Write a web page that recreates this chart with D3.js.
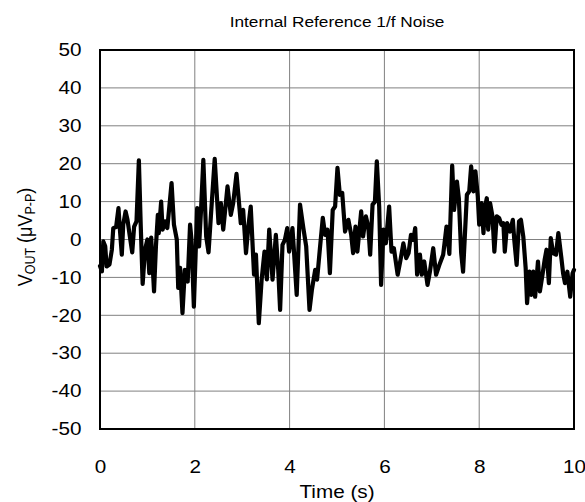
<!DOCTYPE html>
<html><head><meta charset="utf-8">
<script src="https://cdn.jsdelivr.net/npm/d3@7/dist/d3.min.js"></script>
<style>body{margin:0;background:#fff;}text{font-family:"Liberation Sans",Arial,sans-serif;fill:#000;}</style>
</head><body><svg id="c" width="585" height="502"></svg>
<script>
const times = [0,0.04,0.07,0.11,0.14,0.20,0.25,0.28,0.34,0.39,0.42,0.46,0.49,0.54,0.58,0.63,0.68,0.72,0.77,0.82,0.86,0.90,0.95,1.00,1.04,1.08,1.14,1.18,1.22,1.24,1.29,1.32,1.37,1.42,1.51,1.56,1.62,1.65,1.69,1.74,1.79,1.85,1.90,1.93,1.98,2.03,2.05,2.09,2.13,2.18,2.24,2.29,2.34,2.42,2.50,2.55,2.60,2.69,2.76,2.81,2.88,2.97,3.02,3.08,3.13,3.18,3.25,3.29,3.35,3.41,3.47,3.52,3.57,3.64,3.71,3.76,3.80,3.85,3.90,3.95,3.99,4.06,4.09,4.15,4.22,4.29,4.35,4.42,4.47,4.54,4.58,4.64,4.70,4.75,4.80,4.85,4.91,4.96,5.01,5.06,5.11,5.17,5.24,5.30,5.34,5.39,5.43,5.51,5.55,5.61,5.66,5.70,5.75,5.80,5.84,5.89,5.93,5.98,6.03,6.10,6.15,6.20,6.28,6.34,6.40,6.46,6.51,6.56,6.61,6.65,6.69,6.75,6.79,6.84,6.91,6.96,7.03,7.09,7.16,7.24,7.31,7.37,7.43,7.47,7.53,7.57,7.62,7.66,7.74,7.79,7.83,7.88,7.92,7.97,8.00,8.05,8.09,8.12,8.16,8.19,8.23,8.28,8.32,8.37,8.42,8.47,8.51,8.54,8.59,8.65,8.71,8.74,8.79,8.84,8.88,8.93,8.98,9.01,9.06,9.10,9.14,9.18,9.24,9.28,9.34,9.38,9.42,9.47,9.51,9.56,9.62,9.67,9.73,9.77,9.81,9.86,9.92,9.97,10.00];
const vout = [-7,-8.4,-0.5,-1.8,-7.1,-6.6,-2.7,3.0,3.3,8.3,2.6,-4.0,3.9,7.4,5.2,0.8,-3.4,3.4,4.8,20.9,3.4,-11.7,-2.7,0,-8.9,0.5,-13.7,-1.8,6.5,1.7,10.0,2.6,4.8,3.0,14.9,3.9,0,-12.8,-7.5,-19.4,-8.0,-11.1,3.9,0,-17.7,0.8,8.3,-1.8,7.4,21.0,0.8,-3.4,6.3,21.3,4.3,9.6,2.6,14.0,6.5,9.6,17.3,4.3,7.8,-3.6,3.4,8.7,-9.3,-4.0,-22.1,-10.6,-3.2,-10.5,2.6,-10.6,1.2,-8.0,-18.6,-1.4,-0.1,3.0,-3.2,3.0,-2.7,-14.6,9.2,3.0,-1.8,-18.6,-13.3,-8.0,-10.6,-2.3,5.7,1.2,2.6,-8.9,7.8,8.7,18.9,11.8,12.3,2.1,5.2,1.2,-3.6,3.4,-3.2,7.4,0.8,6.1,3.4,-4.0,9.2,10.0,20.6,8.7,-12.0,2.6,-1.0,8.7,-3.2,-2.3,-9.3,-5.4,-1.0,-4.9,-3.6,1.2,-0.1,3.0,-9.3,-4.0,-9.3,-5.8,-12.0,-8.5,-2.3,-9.3,-6.7,-4.0,3.4,-3.8,19.5,7.8,15.3,10.9,-3.6,-8.5,11.8,12.7,19.3,12.7,18.0,11.4,3.9,9.6,1.7,8.3,10.9,2.6,9.6,6.1,-3.2,6.1,5.7,3.9,4.3,-3.2,4.3,2.1,5.2,-0.1,-6.7,4.8,5.2,0.8,-7.5,-16.8,-8.5,-14.6,-8.5,-15.1,-5.8,-13.7,-8.9,-5.4,-2.7,-11.5,0.4,-3.6,-4.0,1.7,-4.5,-8.9,-11.5,-8.5,-15.1,-8.9,-8.0];
const xTicks = [0,2,4,6,8,10];
const yTicks = [-50,-40,-30,-20,-10,0,10,20,30,40,50];
const titleText = "Internal Reference 1/f Noise";
const xLabel = "Time (s)";

const L=100,R=574,T=50,B=429;
const SX=1.15; // horizontal stretch of text seen in the reference
const FS=18;
const svg=d3.select("#c");
const x=d3.scaleLinear().domain([0,10]).range([L,R]);
const y=d3.scaleLinear().domain([-50,50]).range([B,T]);

// grid
svg.append("g").selectAll("line").data(yTicks).join("line")
  .attr("x1",L).attr("x2",R).attr("y1",d=>y(d)).attr("y2",d=>y(d))
  .attr("stroke","#808080").attr("stroke-width",1);
svg.append("g").selectAll("line").data(xTicks).join("line")
  .attr("y1",T).attr("y2",B).attr("x1",d=>x(d)).attr("x2",d=>x(d))
  .attr("stroke","#808080").attr("stroke-width",1);

const fmt=d=>String(d);
// y axis labels
const ya=svg.append("g").attr("transform",`translate(${L},0)`)
  .call(d3.axisLeft(y).tickValues(yTicks).tickSize(0).tickPadding(18).tickFormat(fmt));
ya.select(".domain").remove();
ya.selectAll("text").attr("x",0).attr("transform",`translate(-18.5,0) scale(${SX},1)`)
  .style("font-size",FS+"px").style("font-family","'Liberation Sans',Arial,sans-serif").attr("fill","#000");
// x axis labels
const xa=svg.append("g").attr("transform",`translate(0,${B})`)
  .call(d3.axisBottom(x).tickValues(xTicks).tickSize(0).tickPadding(31.5).tickFormat(fmt));
xa.select(".domain").remove();
xa.selectAll("text").attr("transform",`scale(${SX},1)`)
  .style("font-size",FS+"px").style("font-family","'Liberation Sans',Arial,sans-serif").attr("fill","#000");

// data line
const pts=times.map((t,i)=>[t,vout[i]]);
svg.append("path").datum(pts)
  .attr("d",d3.line().x(d=>x(d[0])).y(d=>y(d[1])))
  .attr("fill","none").attr("stroke","#000").attr("stroke-width",4.2)
  .attr("stroke-linejoin","round").attr("stroke-linecap","round");

// frame
svg.append("rect").attr("x",L).attr("y",T).attr("width",R-L).attr("height",B-T)
  .attr("fill","none").attr("stroke","#000").attr("stroke-width",2);

// titles
svg.append("text").attr("transform",`translate(${(L+R)/2},27) scale(${SX},1)`).attr("text-anchor","middle")
  .style("font-size","15px").text(titleText);
svg.append("text").attr("transform",`translate(${(L+R)/2},498) scale(${SX},1)`).attr("text-anchor","middle")
  .style("font-size",FS+"px").text(xLabel);
const yt=svg.append("text").attr("transform",`translate(31.5,237) rotate(-90) scale(1,${SX})`)
  .attr("text-anchor","middle").style("font-size",FS+"px");
yt.append("tspan").text("V");
yt.append("tspan").attr("baseline-shift","-25%").style("font-size","12.5px").text("OUT");
yt.append("tspan").text(" (\u03bcV");
yt.append("tspan").attr("baseline-shift","-25%").style("font-size","12.5px").text("P-P");
yt.append("tspan").text(")");
</script></body></html>
